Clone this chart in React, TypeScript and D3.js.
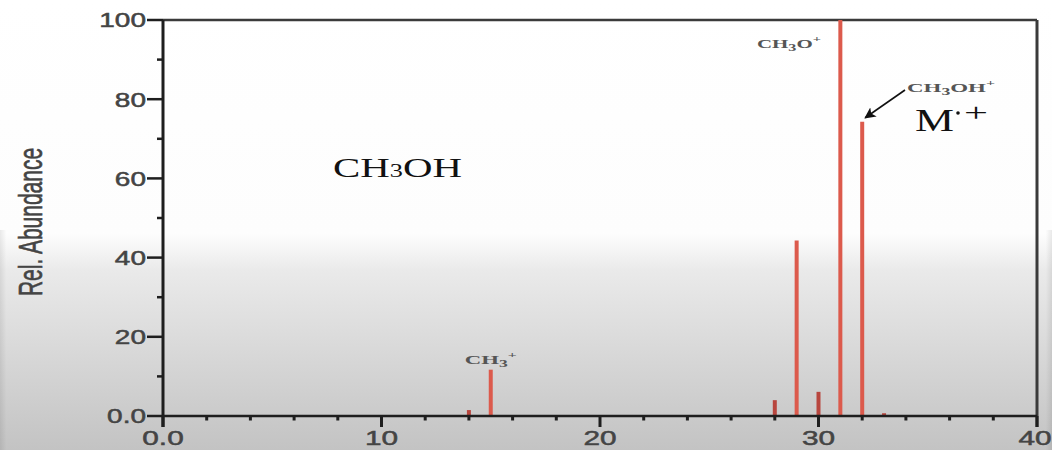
import React, { useEffect } from "react";
import * as d3 from "d3";

// m/z values and relative abundances (methanol, CH3OH)
const mzValues = [14, 15, 28, 29, 30, 31, 32, 33];
const abundances = [1.5, 11.7, 4.0, 44.3, 6.1, 100, 74.3, 0.7];

const xTickValues = [0, 10, 20, 30, 40];
const xTickLabels = ["0.0", "10", "20", "30", "40"];
const xMinorTicks = [2, 4, 6, 8, 12, 14, 16, 18, 22, 24, 26, 28, 32, 34, 36, 38];
const yTickValues = [0, 20, 40, 60, 80, 100];
const yTickLabels = ["0.0", "20", "40", "60", "80", "100"];
const yMinorTicks = [10, 30, 50, 70, 90];

const W = 1052;
const H = 450;

export default function App() {
  useEffect(() => {
    document.body.style.margin = "0";
  }, []);

  const x = d3.scaleLinear().domain([0, 40]).range([163, 1037]);
  const y = d3.scaleLinear().domain([0, 100]).range([416, 20]);

  const axisColor = "#1e1e1e";
  const labelColor = "#444";
  const peakColor = "#dc5a4c";
  const sans = "'Liberation Sans', Arial, sans-serif";
  const serif = "'Liberation Serif', 'Times New Roman', serif";

  return (
    <svg width={W} height={H} style={{ display: "block" }}>
      <defs>
        <linearGradient id="bg" x1="0" y1="0" x2="0" y2="1">
          <stop offset="0" stopColor="#ffffff" />
          <stop offset="0.52" stopColor="#fdfdfd" />
          <stop offset="0.6" stopColor="#eaeaea" />
          <stop offset="1" stopColor="#c3c3c3" />
        </linearGradient>
        <linearGradient id="edge" x1="0" y1="0" x2="1" y2="0">
          <stop offset="0" stopColor="#000" stopOpacity="0.08" />
          <stop offset="0.006" stopColor="#000" stopOpacity="0" />
          <stop offset="0.994" stopColor="#000" stopOpacity="0" />
          <stop offset="1" stopColor="#000" stopOpacity="0.08" />
        </linearGradient>
        <marker id="arrow" viewBox="0 0 10 10" refX="9" refY="5" markerWidth="7" markerHeight="7" orient="auto">
          <path d="M0,0 L10,5 L0,10 L2.5,5 Z" fill="#111" />
        </marker>
      </defs>
      <rect x={0} y={0} width={W} height={H} fill="url(#bg)" />
      <rect x={0} y={230} width={W} height={H - 230} fill="url(#edge)" />

      {/* frame: top and right */}
      <line x1={x(0)} x2={x(40)} y1={y(100)} y2={y(100)} stroke="#3a3a3a" strokeWidth={2.5} />
      <line x1={x(40)} x2={x(40)} y1={y(100)} y2={y(0) + 11} stroke="#3a3a3a" strokeWidth={3} />

      {/* peaks */}
      {mzValues.map((m, i) => (
        <line
          key={"p" + m}
          x1={x(m)}
          x2={x(m)}
          y1={y(0)}
          y2={y(abundances[i])}
          stroke={abundances[i] < 8 ? "#b8463e" : peakColor}
          strokeWidth={4}
        />
      ))}

      {/* y axis */}
      <line x1={x(0)} x2={x(0)} y1={y(100)} y2={y(0) + 11} stroke={axisColor} strokeWidth={3} />
      {yTickValues.map((v, i) => (
        <g key={"yt" + v}>
          <line x1={x(0) - 16} x2={x(0)} y1={y(v)} y2={y(v)} stroke={axisColor} strokeWidth={2.5} />
          <text
            transform={`translate(${x(0) - 17},${y(v) + 7.3}) scale(1.4,1)`}
            textAnchor="end"
            fontFamily={sans}
            fontSize={20}
            fill={labelColor}
            stroke={labelColor}
            strokeWidth={0.5}
          >
            {yTickLabels[i]}
          </text>
        </g>
      ))}
      {yMinorTicks.map((v) => (
        <line key={"ym" + v} x1={x(0) - 6} x2={x(0)} y1={y(v)} y2={y(v)} stroke={axisColor} strokeWidth={2.5} />
      ))}

      {/* x axis */}
      <line x1={x(0)} x2={x(40)} y1={y(0)} y2={y(0)} stroke={axisColor} strokeWidth={2.5} />
      {xTickValues.map((v, i) => (
        <g key={"xt" + v}>
          <line x1={x(v)} x2={x(v)} y1={y(0)} y2={y(0) + 11} stroke={axisColor} strokeWidth={3} />
          <text
            transform={`translate(${v === 40 ? x(v) - 2 : x(v)},${445}) scale(1.42,1)`}
            textAnchor="middle"
            fontFamily={sans}
            fontSize={21}
            fill={labelColor}
            stroke={labelColor}
            strokeWidth={0.5}
          >
            {xTickLabels[i]}
          </text>
        </g>
      ))}
      {xMinorTicks.map((v) => (
        <line key={"xm" + v} x1={x(v)} x2={x(v)} y1={y(0)} y2={y(0) + 4.5} stroke={axisColor} strokeWidth={3} />
      ))}

      {/* y axis title */}
      <text
        transform={`translate(42,222) rotate(-90) scale(1,1.6)`}
        textAnchor="middle"
        fontFamily={sans}
        fontSize={21}
        fill={labelColor}
        stroke={labelColor}
        strokeWidth={0.4}
      >
        Rel. Abundance
      </text>

      {/* compound label */}
      <text x={333} y={177} fontFamily={serif} fontSize={28} fill="#111" textLength={129} lengthAdjust="spacingAndGlyphs">
        CH<tspan fontSize={18}>3</tspan>OH
      </text>

      {/* fragment labels */}
      <text
        x={x(15)}
        y={y(11.7) - 6}
        textAnchor="middle"
        fontFamily={serif}
        fontWeight="bold"
        fontSize={13}
        fill="#555"
        textLength={52}
        lengthAdjust="spacingAndGlyphs"
      >
        CH<tspan fontSize={10} dy={3}>3</tspan>
        <tspan fontSize={9} dy={-9}>+</tspan>
      </text>
      <text
        x={757}
        y={48}
        fontFamily={serif}
        fontWeight="bold"
        fontSize={13}
        fill="#555"
        textLength={64}
        lengthAdjust="spacingAndGlyphs"
      >
        CH<tspan fontSize={10} dy={3}>3</tspan>
        <tspan dy={-3}>O</tspan>
        <tspan fontSize={9} dy={-6}>+</tspan>
      </text>
      <text
        x={907}
        y={92}
        fontFamily={serif}
        fontWeight="bold"
        fontSize={13}
        fill="#555"
        textLength={88}
        lengthAdjust="spacingAndGlyphs"
      >
        CH<tspan fontSize={10} dy={3}>3</tspan>
        <tspan dy={-3}>OH</tspan>
        <tspan fontSize={9} dy={-6}>+</tspan>
      </text>

      {/* arrow to molecular ion */}
      <line x1={905} y1={90} x2={x(32) + 3} y2={y(74.3) - 4} stroke="#111" strokeWidth={1.6} markerEnd="url(#arrow)" />

      {/* M radical cation */}
      <text x={915} y={131} fontFamily={serif} fontSize={32} fill="#111" textLength={39} lengthAdjust="spacingAndGlyphs">
        M
      </text>
      <circle cx={958} cy={113} r={1.8} fill="#111" />
      <text x={964} y={121} fontFamily={serif} fontSize={26} fill="#111" textLength={24} lengthAdjust="spacingAndGlyphs">
        +
      </text>
    </svg>
  );
}
